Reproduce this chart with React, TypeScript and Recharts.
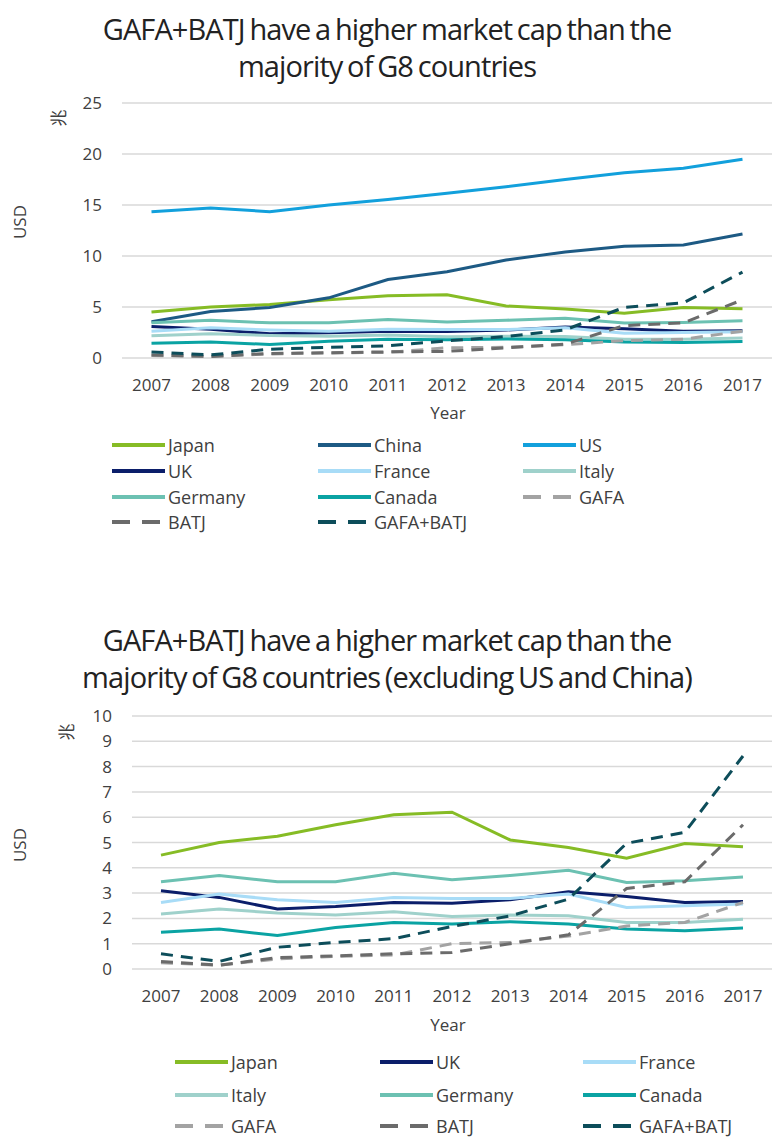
import React from 'react';
import { LineChart, Line, XAxis, YAxis, CartesianGrid } from 'recharts';

const years = ['2007', '2008', '2009', '2010', '2011', '2012', '2013', '2014', '2015', '2016', '2017'];
const japan = [4.5, 5.0, 5.25, 5.7, 6.1, 6.2, 5.1, 4.8, 4.38, 4.96, 4.83];
const china = [3.56, 4.55, 4.95, 5.9, 7.7, 8.46, 9.6, 10.4, 10.95, 11.08, 12.15];
const us = [14.35, 14.7, 14.35, 15.0, 15.55, 16.15, 16.8, 17.5, 18.17, 18.6, 19.48];
const uk = [3.09, 2.83, 2.37, 2.47, 2.63, 2.6, 2.74, 3.05, 2.87, 2.63, 2.67];
const france = [2.63, 2.96, 2.74, 2.63, 2.83, 2.79, 2.79, 2.96, 2.43, 2.5, 2.57];
const italy = [2.17, 2.37, 2.21, 2.13, 2.26, 2.08, 2.13, 2.1, 1.84, 1.84, 1.97];
const germany = [3.45, 3.7, 3.45, 3.45, 3.78, 3.53, 3.7, 3.9, 3.42, 3.49, 3.64];
const canada = [1.45, 1.58, 1.32, 1.64, 1.84, 1.78, 1.87, 1.78, 1.58, 1.51, 1.62];
const gafa = [0.25, 0.15, 0.4, 0.5, 0.55, 1.0, 1.05, 1.3, 1.7, 1.84, 2.63];
const batj = [0.3, 0.15, 0.45, 0.52, 0.6, 0.65, 1.0, 1.35, 3.18, 3.45, 5.7];
const gafaBatj = [0.6, 0.3, 0.86, 1.05, 1.2, 1.68, 2.1, 2.76, 4.97, 5.4, 8.42];

const topTicks = [0, 5, 10, 15, 20, 25];
const bottomTicks = [0, 1, 2, 3, 4, 5, 6, 7, 8, 9, 10];

type Series = { key: string; name: string; values: number[]; color: string; dashed: boolean };

const allSeries: Series[] = [
  { key: 'japan', name: 'Japan', values: japan, color: '#86bc25', dashed: false },
  { key: 'china', name: 'China', values: china, color: '#1d5a84', dashed: false },
  { key: 'us', name: 'US', values: us, color: '#12a0dc', dashed: false },
  { key: 'uk', name: 'UK', values: uk, color: '#0b1e6a', dashed: false },
  { key: 'france', name: 'France', values: france, color: '#a8dcf7', dashed: false },
  { key: 'italy', name: 'Italy', values: italy, color: '#9fd1cb', dashed: false },
  { key: 'germany', name: 'Germany', values: germany, color: '#6cc1b2', dashed: false },
  { key: 'canada', name: 'Canada', values: canada, color: '#0aa3a3', dashed: false },
  { key: 'gafa', name: 'GAFA', values: gafa, color: '#a3a3a3', dashed: true },
  { key: 'batj', name: 'BATJ', values: batj, color: '#6b6b6b', dashed: true },
  { key: 'gafabatj', name: 'GAFA+BATJ', values: gafaBatj, color: '#0d4d5a', dashed: true },
];

const topKeys = ['japan', 'china', 'us', 'uk', 'france', 'italy', 'germany', 'canada', 'gafa', 'batj', 'gafabatj'];
const bottomKeys = ['japan', 'uk', 'france', 'italy', 'germany', 'canada', 'gafa', 'batj', 'gafabatj'];

const data = years.map((y, i) => {
  const row: Record<string, number | string> = { year: y };
  allSeries.forEach((s) => {
    row[s.key] = s.values[i];
  });
  return row;
});

const FONT = '"Open Sans", sans-serif';
const TEXT = '#404040';

function Swatch({ s }: { s: Series }) {
  return (
    <svg width={53} height={8} style={{ display: 'block' }}>
      {s.dashed ? (
        <g>
          <line x1={0} y1={4} x2={18} y2={4} stroke={s.color} strokeWidth={4} />
          <line x1={30} y1={4} x2={48} y2={4} stroke={s.color} strokeWidth={4} />
        </g>
      ) : (
        <line x1={0} y1={4} x2={53} y2={4} stroke={s.color} strokeWidth={4} />
      )}
    </svg>
  );
}

function LegendBlock({ keys, cols, rows }: { keys: string[]; cols: number[]; rows: number[] }) {
  return (
    <>
      {keys.map((k, i) => {
        const s = allSeries.find((x) => x.key === k)!;
        const c = cols[i % 3];
        const r = rows[Math.floor(i / 3)];
        return (
          <div
            key={k}
            style={{ position: 'absolute', left: c, top: r - 12, height: 24, lineHeight: '24px', display: 'flex', alignItems: 'center', fontSize: 18, color: TEXT, whiteSpace: 'nowrap' }}
          >
            <Swatch s={s} />
            <span style={{ marginLeft: 3 }}>{s.name}</span>
          </div>
        );
      })}
    </>
  );
}

function Chart({ keys, ticks, max, top, height, mTop, mLeft, mBottom, pad }: { keys: string[]; ticks: number[]; max: number; top: number; height: number; mTop: number; mLeft: number; mBottom: number; pad: number }) {
  return (
    <div style={{ position: 'absolute', left: 0, top }}>
      <LineChart width={774} height={height} data={data} margin={{ top: mTop, right: 2, left: mLeft, bottom: mBottom }}>
        <CartesianGrid vertical={false} stroke="#d9d9d9" strokeWidth={1.5} />
        <XAxis
          dataKey="year"
          axisLine={false}
          tickLine={false}
          height={30}
          padding={{ left: pad, right: pad }}
          tick={{ fill: TEXT, fontSize: 17, fontFamily: FONT }}
          tickMargin={15}
          interval={0}
        />
        <YAxis
          width={60}
          domain={[0, max]}
          ticks={ticks}
          axisLine={false}
          tickLine={false}
          tick={{ fill: TEXT, fontSize: 17, fontFamily: FONT }}
          tickMargin={14}
          interval={0}
        />
        {keys.map((k) => {
          const s = allSeries.find((x) => x.key === k)!;
          return (
            <Line
              key={k}
              type="linear"
              dataKey={k}
              stroke={s.color}
              strokeWidth={3}
              strokeDasharray={s.dashed ? '12 8' : undefined}
              dot={false}
              activeDot={false}
              isAnimationActive={false}
            />
          );
        })}
      </LineChart>
    </div>
  );
}

const titleStyle: React.CSSProperties = {
  position: 'absolute',
  left: 0,
  width: 774,
  textAlign: 'center',
  fontSize: 29,
  color: '#222',
  letterSpacing: -0.9,
  wordSpacing: -2,
  whiteSpace: 'nowrap',
};

export default function App() {
  return (
    <div style={{ position: 'absolute', left: 0, top: 0, width: 774, height: 1140, background: '#fff', fontFamily: FONT, overflow: 'hidden' }}>
      <div style={{ ...titleStyle, top: 10, lineHeight: '37px' }}>
        GAFA+BATJ have a higher market cap than the
        <br />
        majority of G8 countries
      </div>
      <Chart keys={topKeys} ticks={topTicks} max={25} top={0} height={400} mTop={103} mLeft={62} mBottom={12} pad={29.5} />
      <div style={{ position: 'absolute', left: 20 - 30, top: 222 - 12, width: 60, height: 24, textAlign: 'center', transform: 'rotate(-90deg)', fontSize: 17, color: TEXT, lineHeight: '24px' }}>USD</div>
      <div style={{ position: 'absolute', left: 58 - 12, top: 118 - 12, width: 24, height: 24, textAlign: 'center', transform: 'rotate(-90deg)', fontSize: 17, color: TEXT, lineHeight: '24px', fontFamily: '"Noto Sans CJK JP", sans-serif' }}>兆</div>
      <div style={{ position: 'absolute', left: 448 - 40, top: 413 - 12, width: 80, textAlign: 'center', fontSize: 17, color: TEXT, lineHeight: '24px' }}>Year</div>
      <LegendBlock keys={topKeys} cols={[112, 318, 523]} rows={[445, 471, 497, 522]} />

      <div style={{ ...titleStyle, top: 621, lineHeight: '37px' }}>
        GAFA+BATJ have a higher market cap than the
        <br />
        majority of G8 countries (excluding US and China)
      </div>
      <Chart keys={bottomKeys} ticks={bottomTicks} max={10} top={600} height={420} mTop={116} mLeft={72} mBottom={21} pad={29} />
      <div style={{ position: 'absolute', left: 20 - 30, top: 845 - 12, width: 60, height: 24, textAlign: 'center', transform: 'rotate(-90deg)', fontSize: 17, color: TEXT, lineHeight: '24px' }}>USD</div>
      <div style={{ position: 'absolute', left: 66 - 12, top: 732 - 12, width: 24, height: 24, textAlign: 'center', transform: 'rotate(-90deg)', fontSize: 17, color: TEXT, lineHeight: '24px', fontFamily: '"Noto Sans CJK JP", sans-serif' }}>兆</div>
      <div style={{ position: 'absolute', left: 448 - 40, top: 1025 - 12, width: 80, textAlign: 'center', fontSize: 17, color: TEXT, lineHeight: '24px' }}>Year</div>
      <LegendBlock keys={bottomKeys} cols={[175, 380, 583]} rows={[1062, 1095, 1126]} />
    </div>
  );
}
